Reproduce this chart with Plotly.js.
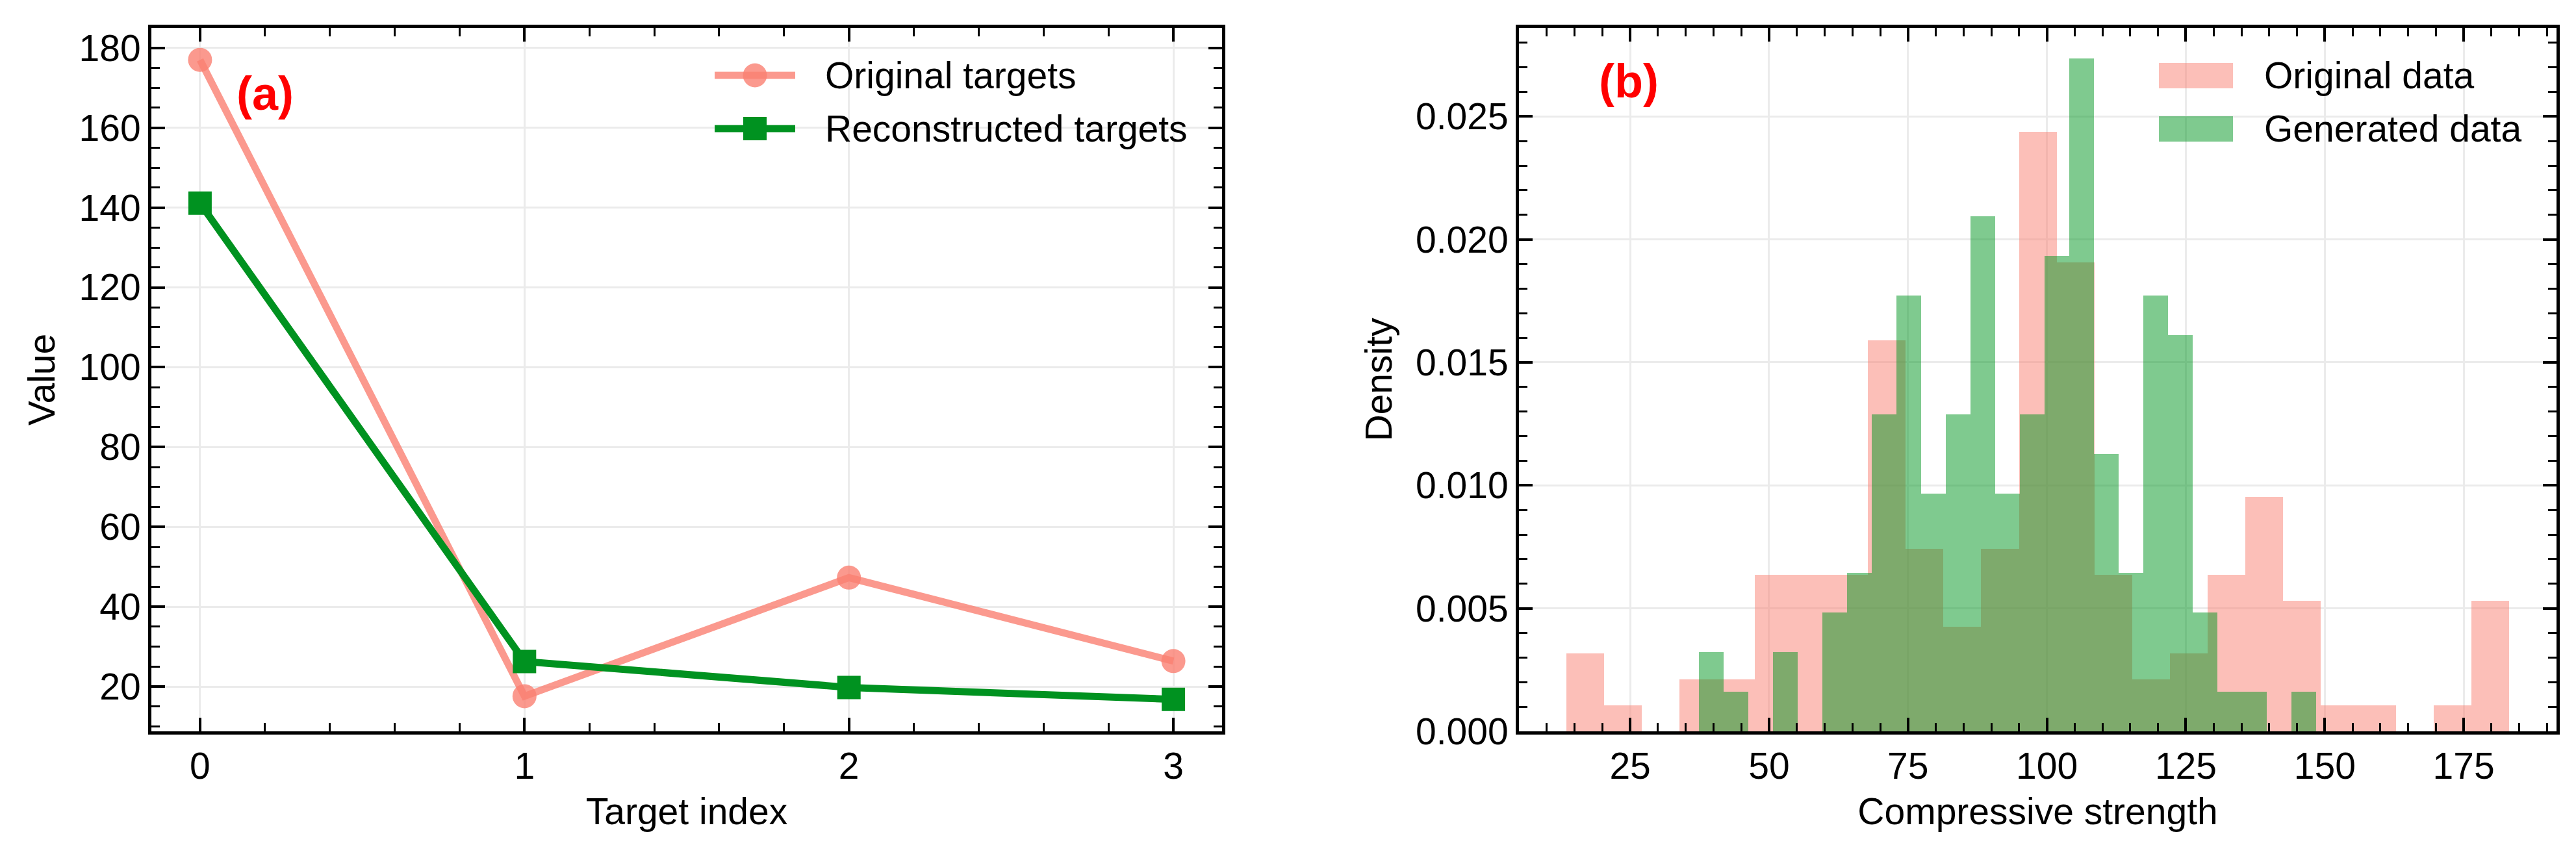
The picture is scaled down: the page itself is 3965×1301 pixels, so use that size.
<!DOCTYPE html>
<html>
<head>
<meta charset="utf-8">
<script src="https://cdn.plot.ly/plotly-3.0.1.min.js"></script>
<style>html,body{margin:0;padding:0;background:#fff}#chart{width:3965px;height:1301px}</style>
</head>
<body>
<div id="chart"></div>
<script>
// ---------- data: panel (a) ----------
const targetIndex = [0, 1, 2, 3];
const originalTargets = [177.0, 17.6, 47.3, 26.4];
const reconstructedTargets = [141.1, 26.3, 19.8, 16.8];

// ---------- data: panel (b) histograms (density) ----------
const originalBinLeft = [13.50, 20.29, 27.08, 33.86, 40.65, 47.44, 54.23, 61.02, 67.80, 74.59,
  81.38, 88.17, 94.96, 101.74, 108.53, 115.32, 122.11, 128.90, 135.68, 142.47,
  149.26, 156.05, 162.84, 169.62, 176.41];
const originalBinWidth = 6.79;
const originalDensity = [0.00318, 0.00106, 0.0, 0.00212, 0.00212, 0.00636, 0.00636, 0.00636, 0.0159, 0.00742,
  0.00424, 0.00742, 0.02438, 0.01908, 0.00636, 0.00212, 0.00318, 0.00636, 0.00954, 0.0053,
  0.00106, 0.00106, 0.0, 0.00106, 0.0053];

const generatedBinLeft = [37.38, 41.82, 46.27, 50.71, 55.16, 59.60, 64.04, 68.49, 72.93, 77.38,
  81.82, 86.26, 90.71, 95.15, 99.60, 104.04, 108.48, 112.93, 117.37, 121.82,
  126.26, 130.70, 135.15, 139.59, 144.04];
const generatedBinWidth = 4.444;
const generatedDensity = [0.00322, 0.00161, 0.0, 0.00322, 0.0, 0.00483, 0.00644, 0.01288, 0.01771, 0.00966,
  0.01288, 0.02093, 0.00966, 0.01288, 0.01932, 0.02737, 0.01127, 0.00644, 0.01771, 0.0161,
  0.00483, 0.00161, 0.00161, 0.0, 0.00161];

// ---------- labels ----------
const seriesNamesA = ['Original targets', 'Reconstructed targets'];
const seriesNamesB = ['Original data', 'Generated data'];
const panelLabels = ['(a)', '(b)'];
const axisTitles = {ax: 'Target index', ay: 'Value', bx: 'Compressive strength', by: 'Density'};
const xTicksA = [0, 1, 2, 3];
const yTicksA = [20, 40, 60, 80, 100, 120, 140, 160, 180];
const xTicksB = [25, 50, 75, 100, 125, 150, 175];
const yTicksB = [0, 0.005, 0.010, 0.015, 0.020, 0.025];

// ---------- layout helpers ----------
const W = 3965, H = 1301;
const px = v => v / W;           // x pixel -> paper
const py = v => (H - v) / H;     // y pixel (from top) -> paper
const FONT = 'Liberation Sans, Arial, Helvetica, sans-serif';
const FS = 57;
const pinkLine = 'rgba(250,128,114,0.8)';
const greenLine = 'rgb(0,146,32)';
const pinkFill = 'rgba(250,128,114,0.5)';
const greenFill = 'rgba(0,150,32,0.5)';

function axisBase(extra) {
  return Object.assign({
    showline: true, linecolor: '#000', linewidth: 5, mirror: 'allticks',
    ticks: 'inside', ticklen: 21, tickwidth: 4, tickcolor: '#000',
    showgrid: true, gridcolor: '#ebebeb', gridwidth: 3, zeroline: false,
    tickfont: {family: FONT, size: FS, color: '#000'},
    automargin: false, fixedrange: true
  }, extra);
}

const traces = [
  {x: targetIndex, y: originalTargets, name: seriesNamesA[0], type: 'scatter', mode: 'lines+markers',
   xaxis: 'x', yaxis: 'y', line: {color: pinkLine, width: 11},
   marker: {symbol: 'circle', size: 37, color: pinkLine}, showlegend: false},
  {x: targetIndex, y: reconstructedTargets, name: seriesNamesA[1], type: 'scatter', mode: 'lines+markers',
   xaxis: 'x', yaxis: 'y', line: {color: greenLine, width: 11},
   marker: {symbol: 'square', size: 36, color: greenLine}, showlegend: false},
  {x: originalBinLeft, y: originalDensity, name: seriesNamesB[0], type: 'bar', offset: 0, width: originalBinWidth,
   xaxis: 'x2', yaxis: 'y2', marker: {color: pinkFill, line: {width: 0}}, showlegend: false},
  {x: generatedBinLeft, y: generatedDensity, name: seriesNamesB[1], type: 'bar', offset: 0, width: generatedBinWidth,
   xaxis: 'x2', yaxis: 'y2', marker: {color: greenFill, line: {width: 0}}, showlegend: false}
];

const yDom = [py(1126), py(43)];
const layout = {
  width: W, height: H,
  margin: {l: 0, r: 0, t: 0, b: 0, pad: 0},
  paper_bgcolor: '#fff', plot_bgcolor: '#fff',
  barmode: 'overlay', bargap: 0,
  showlegend: false,
  font: {family: FONT, size: FS, color: '#000'},
  xaxis: axisBase({domain: [px(233), px(1881)], anchor: 'y', range: [-0.15, 3.15],
    tickvals: xTicksA, ticktext: xTicksA.map(String),
    minor: {dtick: 0.2, tick0: 0, ticks: 'inside', ticklen: 13, tickwidth: 3, tickcolor: '#000', showgrid: false},
    title: {text: axisTitles.ax, font: {family: FONT, size: FS, color: '#000'}, standoff: 20}}),
  yaxis: axisBase({domain: yDom, anchor: 'x', range: [8.8, 185.0],
    tickvals: yTicksA, ticktext: yTicksA.map(String),
    minor: {dtick: 5, tick0: 0, ticks: 'inside', ticklen: 13, tickwidth: 3, tickcolor: '#000', showgrid: false},
    title: {text: axisTitles.ay, font: {family: FONT, size: FS, color: '#000'}, standoff: 20}}),
  xaxis2: axisBase({domain: [px(2338), px(3935)], anchor: 'y2', range: [5.0, 191.7],
    tickvals: xTicksB, ticktext: xTicksB.map(String),
    minor: {dtick: 5, tick0: 0, ticks: 'inside', ticklen: 13, tickwidth: 3, tickcolor: '#000', showgrid: false},
    title: {text: axisTitles.bx, font: {family: FONT, size: FS, color: '#000'}, standoff: 20}}),
  yaxis2: axisBase({domain: yDom, anchor: 'x2', range: [0, 0.0286],
    tickvals: yTicksB, ticktext: yTicksB.map(v => v.toFixed(3)),
    minor: {dtick: 0.001, tick0: 0, ticks: 'inside', ticklen: 13, tickwidth: 3, tickcolor: '#000', showgrid: false},
    title: {text: axisTitles.by, font: {family: FONT, size: FS, color: '#000'}, standoff: 20}}),
  shapes: [
    // legend (a): line + circle
    {type: 'line', xref: 'paper', yref: 'paper', x0: px(1100), x1: px(1224), y0: py(116), y1: py(116),
     line: {color: pinkLine, width: 11}},
    {type: 'circle', xref: 'paper', yref: 'paper', xsizemode: 'pixel', ysizemode: 'pixel',
     xanchor: px(1162), yanchor: py(116), x0: -18.5, x1: 18.5, y0: -18.5, y1: 18.5,
     fillcolor: pinkLine, line: {width: 0}},
    {type: 'line', xref: 'paper', yref: 'paper', x0: px(1100), x1: px(1224), y0: py(198), y1: py(198),
     line: {color: greenLine, width: 11}},
    {type: 'rect', xref: 'paper', yref: 'paper', xsizemode: 'pixel', ysizemode: 'pixel',
     xanchor: px(1162), yanchor: py(198), x0: -18, x1: 18, y0: -18, y1: 18,
     fillcolor: greenLine, line: {width: 0}},
    // legend (b): patches
    {type: 'rect', xref: 'paper', yref: 'paper', x0: px(3323), x1: px(3437), y0: py(136), y1: py(97),
     fillcolor: pinkFill, line: {width: 0}},
    {type: 'rect', xref: 'paper', yref: 'paper', x0: px(3323), x1: px(3437), y0: py(218), y1: py(179),
     fillcolor: greenFill, line: {width: 0}}
  ],
  annotations: [
    {text: seriesNamesA[0], xref: 'paper', yref: 'paper', x: px(1268), y: py(116), xanchor: 'left', yanchor: 'middle',
     showarrow: false, font: {family: FONT, size: FS, color: '#000'}},
    {text: seriesNamesA[1], xref: 'paper', yref: 'paper', x: px(1268), y: py(198), xanchor: 'left', yanchor: 'middle',
     showarrow: false, font: {family: FONT, size: FS, color: '#000'}},
    {text: seriesNamesB[0], xref: 'paper', yref: 'paper', x: px(3483), y: py(116), xanchor: 'left', yanchor: 'middle',
     showarrow: false, font: {family: FONT, size: FS, color: '#000'}},
    {text: seriesNamesB[1], xref: 'paper', yref: 'paper', x: px(3483), y: py(198), xanchor: 'left', yanchor: 'middle',
     showarrow: false, font: {family: FONT, size: FS, color: '#000'}},
    {text: '<b>' + panelLabels[0] + '</b>', xref: 'paper', yref: 'paper', x: px(408), y: py(144), xanchor: 'center', yanchor: 'middle',
     showarrow: false, font: {family: FONT, size: 72, color: '#ff0000'}},
    {text: '<b>' + panelLabels[1] + '</b>', xref: 'paper', yref: 'paper', x: px(2507), y: py(125), xanchor: 'center', yanchor: 'middle',
     showarrow: false, font: {family: FONT, size: 72, color: '#ff0000'}}
  ]
};

Plotly.newPlot('chart', traces, layout, {staticPlot: true, displayModeBar: false});
</script>
</body>
</html>
